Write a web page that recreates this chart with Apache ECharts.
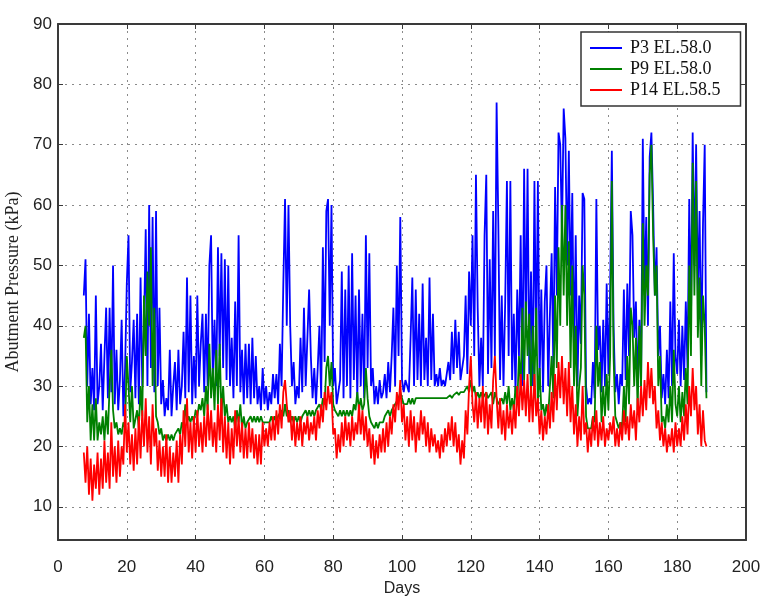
<!DOCTYPE html>
<html><head><meta charset="utf-8">
<script src="https://cdn.jsdelivr.net/npm/echarts@6/dist/echarts.min.js"></script>
<style>html,body{margin:0;padding:0;background:#fff}#c{width:769px;height:596px}</style>
</head><body><div id="c"></div>
<script>
// ---- data (days, kPa); each block = [first day, values every 0.5 day]
const seriesNames = ['P3 EL.58.0', 'P9 EL.58.0', 'P14 EL.58.5'];
const xTickStep = 20;
const dayStep = 0.5;

const p3Blocks = [
  [7.5, [45,51,30,42,27,33,26,45,27,30]],
  [12.5, [37,26,35,43,28,43,29,50,27,36,26,31,41,25,33,47,55,29,34,41]],
  [22.5, [28,42,27,48,30,40,56,30,60,33,58,29,59,30,43,27,31,25,28,26]],
  [32.5, [36,25,30,34,26,36,27,30,39,28,48,29,45,27,35,28,45,30,37,42]],
  [42.5, [29,42,30,50,55,31,41,30,53,35,52,33,51,31,50,30,38,28,44,30]],
  [52.5, [55,29,36,27,37,28,37,27,38,28,35,27,30,26,33,27,30,26,29,27]],
  [62.5, [32,28,32,27,37,30,47,61,40,60,40,30,34,27,30,28,38,29,43,30]],
  [72.5, [38,46,35,28,33,27,33,40,28,53,34,59,61,40,60,30,33,27,27,31]],
  [82.5, [49,28,46,30,50,28,52,31,45,28,46,30,42,28,55,33,52,30,33,27]],
  [92.5, [30,27,31,28,29,32,28,34,29,35,43,30,50,35,58,31,29,31,30,29]],
  [102.5, [38,48,30,46,31,42,30,47,31,38,30,48,31,42,30,32,30,33,30,31]],
  [112.5, [30,32,34,31,39,32,41,33,39,31,31,35,45,32,49,40,55,35,65,43]],
  [122.5, [30,38,30,55,65,32,51,33,59,35,77,57,31,45,30,44,64,35,64,31]],
  [132.5, [42,29,46,35,55,30,66,38,66,32,49,30,64,35,64,31,46,29,44,50]],
  [142.5, [30,42,52,33,63,45,72,70,55,76,71,50,69,45,62,35,55,30,45,37]],
  [152.5, [62,61,30,27,28,27,34,28,61,36,40,29,41,30,47,32,46,69,40,29]],
  [162.5, [32,27,32,30,46,31,47,35,59,55,38,44,30,41,30,71,45,58,40,68]],
  [172.5, [72,60,45,53,35,40,28,32,27,36,28,44,30,52,35,32,41,30,40,31]],
  [182.5, [44,33,61,40,72,50,70,45,59,35,57,70,29]]
];

const p9Blocks = [
  [7.5, [38,40,24,30,21,27,21,28,21,24]],
  [12.5, [22,25,21,26,22,30,36,26,23,24,22,23,22,24,23,35,30,24,30,23]],
  [22.5, [23,26,23,30,25,45,35,49,40,53,30,43,25,24,22,23,21,22,21,22]],
  [32.5, [21,22,21,22,22,23,22,24,23,27,24,25,24,25,24,26,25,27,26,28]],
  [42.5, [25,30,26,37,28,33,26,36,27,37,25,30,25,27,24,25,24,25,23,26]],
  [52.5, [24,27,23,25,23,24,24,25,24,25,24,25,24,25,24,24,24,24,24,25]],
  [62.5, [24,25,24,25,25,26,25,27,25,26,24,25,24,25,24,25,24,25,25,26]],
  [72.5, [25,26,25,26,25,26,26,27,26,28,27,33,35,30,34,27,26,26,25,26]],
  [82.5, [25,26,25,26,25,26,25,27,26,29,26,28,26,27,33,28,25,24,24,23]],
  [92.5, [24,23,24,24,24,25,25,26,25,26,26,27,27,28,29,28,27,27,27,28]],
  [102.5, [27,28,27,28,28,28,28,28,28,28,28,28,28,28,28,28,28,28,28,28]],
  [112.5, [28,28,28,28.5,28,28.5,28.5,29,28.5,29,29,29,29,30,29,31,29,30,28,29]],
  [122.5, [28,29,28,28,29,28,28,29,27,29,28,27,27,28,27,29,27,30,26,28]],
  [132.5, [26,30,27,35,30,43,31,44,35,42,28,40,30,43,27,33,26,27,25,27]],
  [142.5, [25,30,35,28,45,33,53,40,60,45,60,40,54,33,50,30,40,25,30,33]],
  [152.5, [50,45,25,23,23,23,25,24,40,30,34,24,30,25,32,26,35,64,35,25]],
  [162.5, [24,23,24,23,30,24,35,27,43,40,30,38,26,40,30,57,40,50,45,65]],
  [172.5, [70,55,45,50,30,35,24,25,23,27,24,30,24,36,27,25,30,24,29,25]],
  [182.5, [33,27,50,35,67,45,64,38,48,30,45,40,28]]
];

const p14Blocks = [
  [7.5, [19,14,20,12,18,11,17,13,19,12]],
  [12.5, [18,13,21,14,19,13,24,15,20,14,21,15,20,17,27,19,24,17,22,16]],
  [22.5, [23,17,25,18,26,20,28,19,25,17,27,20,23,16,21,15,20,15,22,14]],
  [32.5, [20,14,19,15,21,14,22,17,26,20,28,19,24,18,25,19,26,20,24,19]],
  [42.5, [25,20,27,21,26,20,24,19,27,21,28,19,25,18,24,17,23,18,26,20]],
  [52.5, [25,19,24,18,23,18,24,19,23,18,22,17,22,17,24,20,23,20,24,21]],
  [62.5, [25,21,26,22,27,23,29,31,27,24,26,21,25,20,24,21,25,20,24,22]],
  [72.5, [25,21,24,22,25,21,26,23,27,24,29,26,30,27,29,22,23,18,22,19]],
  [82.5, [24,20,25,21,24,20,25,21,24,22,27,22,26,21,25,20,23,18,22,17]],
  [92.5, [21,18,22,19,23,19,24,20,25,22,27,24,29,26,31,24,27,21,25,20]],
  [102.5, [26,21,25,19,24,21,26,22,25,20,24,19,23,20,22,19,21,18,22,19]],
  [112.5, [23,20,24,21,25,20,24,19,22,17,21,18,26,22,30,35,27,24,29,23]],
  [122.5, [28,24,30,23,29,22,27,23,31,35,28,23,28,22,26,21,27,23,26,22]],
  [132.5, [27,23,30,25,32,26,31,25,32,24,30,24,32,25,28,22,26,21,25,22]],
  [142.5, [27,23,29,24,32,26,34,28,35,27,33,25,34,24,30,22,27,20,25,21]],
  [152.5, [30,22,24,19,23,20,25,21,26,20,24,21,25,20,23,21,24,22,25,20]],
  [162.5, [23,20,24,21,26,22,25,21,27,23,26,21,28,24,30,25,31,26,34,28]],
  [172.5, [33,27,30,23,26,21,24,20,23,19,22,20,23,19,24,20,23,20,25,21]],
  [182.5, [27,22,30,25,33,26,30,22,27,20,26,21,20]]
];

const xRange = [0, 200];
const yRange = [4.5, 90];
const colors = ['#0000ff', '#008000', '#ff0000'];

function toPairs(blocks) {
  const out = [];
  blocks.forEach(([d0, vals]) => vals.forEach((v, i) => out.push([d0 + i * dayStep, v])));
  return out;
}
const allData = [toPairs(p3Blocks), toPairs(p9Blocks), toPairs(p14Blocks)];

const axisColor = '#3a3a3a';
const gridLine = { show: true, lineStyle: { color: '#8a8a8a', width: 1, type: [2, 5] } };
const tickFont = { fontFamily: 'Liberation Sans', fontSize: 17, color: '#222' };

const chart = echarts.init(document.getElementById('c'), null, { renderer: 'canvas' });
chart.setOption({
  animation: false,
  backgroundColor: '#fff',
  grid: { left: 58, top: 24, right: 23, bottom: 56, outerBoundsMode: 'none', containLabel: false },
  legend: {
    data: seriesNames,
    orient: 'vertical',
    left: 581, top: 32,
    icon: 'rect', itemWidth: 32, itemHeight: 2, itemGap: 3,
    padding: [7, 20, 7, 9],
    borderColor: '#333', borderWidth: 1.5, backgroundColor: '#fff',
    textStyle: { fontFamily: 'Liberation Serif', fontSize: 18, color: '#111', padding: [0, 0, 0, 3] }
  },
  xAxis: [
    {
      type: 'value', min: xRange[0], max: xRange[1], interval: xTickStep,
      axisLine: { show: true, onZero: false, lineStyle: { color: axisColor, width: 2 } },
      axisTick: { show: true, inside: true, length: 5, lineStyle: { color: axisColor } },
      axisLabel: Object.assign({ margin: 19 }, tickFont),
      splitLine: gridLine,
      name: 'Days', nameLocation: 'middle', nameGap: 41,
      nameTextStyle: { fontFamily: 'Liberation Sans', fontSize: 16, color: '#222' }
    },
    {
      type: 'value', position: 'top', min: xRange[0], max: xRange[1], interval: xTickStep,
      axisLine: { show: true, onZero: false, lineStyle: { color: axisColor, width: 2 } },
      axisTick: { show: true, inside: true, length: 5, lineStyle: { color: axisColor } },
      axisLabel: { show: false }, splitLine: { show: false }
    }
  ],
  yAxis: [
    {
      type: 'value', min: yRange[0], max: yRange[1], splitNumber: 9,
      axisLine: { show: true, onZero: false, lineStyle: { color: axisColor, width: 2 } },
      axisTick: { show: true, inside: true, length: 5, lineStyle: { color: axisColor } },
      axisLabel: Object.assign({ margin: 6, showMinLabel: false }, tickFont),
      splitLine: gridLine,
      name: 'Abutment Pressure (kPa)', nameLocation: 'middle', nameGap: 28,
      nameTextStyle: { fontFamily: 'Liberation Serif', fontSize: 18, color: '#222' }
    },
    {
      type: 'value', position: 'right', min: yRange[0], max: yRange[1], splitNumber: 9,
      axisLine: { show: true, onZero: false, lineStyle: { color: axisColor, width: 2 } },
      axisTick: { show: true, inside: true, length: 5, lineStyle: { color: axisColor } },
      axisLabel: { show: false }, splitLine: { show: false }
    }
  ],
  series: seriesNames.map((name, i) => ({
    name, type: 'line', data: allData[i],
    showSymbol: false, symbol: 'none', sampling: null,
    color: colors[i],
    lineStyle: { width: 1.8, color: colors[i] },
    emphasis: { disabled: true }
  }))
});
</script></body></html>
